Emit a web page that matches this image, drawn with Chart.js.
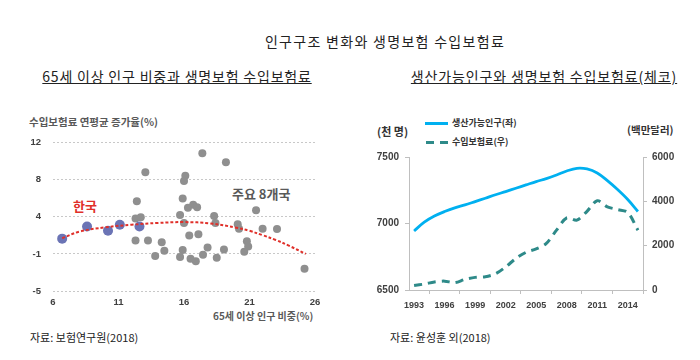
<!DOCTYPE html>
<html>
<head>
<meta charset="utf-8">
<script src="https://cdn.jsdelivr.net/npm/chart.js@4.4.1/dist/chart.umd.min.js"></script>
<style>
  body { margin: 0; background: #fff; font-family: "Noto Sans CJK KR", "Noto Sans", sans-serif; }
  #wrap { position: relative; width: 700px; height: 360px; overflow: hidden; }
  .t { position: absolute; white-space: nowrap; line-height: 1; color: #222; }
  .c { transform: translateX(-50%); }
  canvas { position: absolute; }
</style>
</head>
<body>
<div id="wrap">
  <div class="t c" style="left:385px; top:34px; font-size:14px; letter-spacing:1.3px;">인구구조 변화와 생명보험 수입보험료</div>
  <div class="t c" style="left:177px; top:69px; font-size:14px; letter-spacing:0.8px; text-decoration:underline;">65세 이상 인구 비중과 생명보험 수입보험료</div>
  <div class="t c" style="left:544px; top:69px; font-size:14px; letter-spacing:0.85px; text-decoration:underline;">생산가능인구와 생명보험 수입보험료(체코)</div>

  <div class="t" style="left:29px; top:117px; font-size:10.5px; font-weight:bold; color:#595959;">수입보험료 연평균 증가율(%)</div>
  <div class="t" style="left:213px; top:311px; font-size:10px; font-weight:bold; color:#595959;">65세 이상 인구 비중(%)</div>
  <div class="t" style="left:73px; top:199px; font-size:13px; font-weight:bold; color:#e0302a;">한국</div>
  <div class="t" style="left:232px; top:187px; font-size:13px; font-weight:bold; color:#595959;">주요 8개국</div>

  <div class="t" style="left:377px; top:126px; font-size:11px; font-weight:bold; color:#333;">(천 명)</div>
  <div class="t" style="left:627px; top:125px; font-size:10.5px; font-weight:bold; color:#333;">(백만달러)</div>
  <div style="position:absolute; left:425px; top:122px; width:23px; height:2.5px; background:#00b0f0;"></div>
  <div class="t" style="left:452px; top:118px; font-size:9px; font-weight:bold; color:#333;">생산가능인구(좌)</div>
  <div style="position:absolute; left:426px; top:141px; width:8px; height:3px; background:#2e8a89;"></div>
  <div style="position:absolute; left:440px; top:141px; width:8px; height:3px; background:#2e8a89;"></div>
  <div class="t" style="left:452px; top:137px; font-size:9px; font-weight:bold; color:#333;">수입보험료(우)</div>

  <div class="t" style="left:30px; top:332px; font-size:11px; color:#222;">자료: 보험연구원(2018)</div>
  <div class="t" style="left:390px; top:332px; font-size:11px; color:#222;">자료: 윤성훈 외(2018)</div>

  <canvas id="left" width="340" height="205" style="left:0; top:125px;"></canvas>
  <canvas id="right" width="350" height="175" style="left:350px; top:145px;"></canvas>
</div>
<script>
// left: share of 65+ vs premium growth
const koreaX = [6.7, 8.6, 10.2, 11.1, 12.6];
const koreaY = [1.0, 2.4, 1.9, 2.6, 2.4];
const otherX = [13.05, 17.4, 19.2, 16.1, 16.0, 12.4, 15.9, 16.7, 16.3, 17.0, 15.7, 16.0, 12.3, 12.7, 18.3, 18.4, 20.1, 20.2, 21.5, 22.0,
                23.1, 16.4, 17.1, 12.3, 13.25, 14.3, 14.5, 13.8, 15.9, 15.7, 16.5, 16.9, 17.45, 17.8, 18.5, 19.05, 20.8, 20.9, 20.6, 25.2];
const otherY = [8.6, 10.8, 9.75, 8.2, 7.6, 5.3, 5.6, 4.9, 4.55, 4.6, 3.7, 2.8, 3.3, 3.45, 3.6, 2.8, 2.65, 2.15, 4.25, 2.15,
                2.1, 1.35, 1.5, 0.8, 0.8, 0.6, -0.4, -1.0, -0.3, -1.1, -1.3, -1.6, -0.85, 0.0, -1.2, -0.25, 0.7, 0.1, -0.5, -2.45];
const trendX = [6.7, 8, 10, 12, 14, 16, 18, 20, 21, 22, 23, 24, 25.3];
const trendY = [1.05, 1.8, 2.3, 2.6, 2.8, 2.9, 2.75, 2.25, 1.9, 1.4, 0.85, 0.2, -0.75];
const leftYTicks = ['-5', '-1', '4', '8', '12'];
const leftXTicks = ['6', '11', '16', '21', '26'];

// right: Czech working-age population vs premium income
const years = ['1993', '1994', '1995', '1996', '1997', '1998', '1999', '2000', '2001', '2002', '2003', '2004',
               '2005', '2006', '2007', '2008', '2009', '2010', '2011', '2012', '2013', '2014', '2015'];
const workingPop = [6944, 7010, 7056, 7090, 7118, 7140, 7165, 7190, 7216, 7240, 7265, 7290,
                    7315, 7338, 7365, 7395, 7415, 7410, 7380, 7322, 7255, 7180, 7090];
const premiums = [200, 270, 360, 400, 330, 480, 570, 600, 730, 1040, 1420, 1700,
                  1850, 2100, 2700, 3250, 3150, 3550, 4030, 3750, 3630, 3500, 2700];

const pts = (xs, ys) => xs.map((x, i) => ({ x: x, y: ys[i] }));
const tickFont = { family: 'Liberation Sans', size: 9.5, weight: 'bold' };

new Chart(document.getElementById('left'), {
  type: 'scatter',
  data: {
    datasets: [
      { type: 'line', data: pts(trendX, trendY), borderColor: '#e0302a', borderWidth: 2, borderDash: [3, 2],
        pointRadius: 0, tension: 0.4, fill: false },
      { data: pts(koreaX, koreaY), backgroundColor: '#6b74b5', borderWidth: 0, pointRadius: 5 },
      { data: pts(otherX, otherY), backgroundColor: '#8f8f8f', borderWidth: 0, pointRadius: 4 }
    ]
  },
  options: {
    responsive: false,
    animation: false,
    layout: { padding: { top: 10, right: 25, left: 0, bottom: 0 } },
    plugins: { legend: { display: false }, tooltip: { enabled: false } },
    scales: {
      x: {
        type: 'linear', min: 6, max: 26,
        afterFit: (s) => { s.height = 39; },
        grid: { display: false, drawTicks: false },
        border: { display: false },
        ticks: { stepSize: 5, padding: 6, color: '#404040', font: tickFont,
                 callback: (v, i) => leftXTicks[i] }
      },
      y: {
        min: -5, max: 12,
        afterFit: (s) => { s.width = 53; },
        grid: { color: '#c8c8c8', drawTicks: false, lineWidth: 1 },
        border: { display: false, dash: [2, 2] },
        ticks: { stepSize: 4.25, padding: 12, color: '#404040', font: tickFont,
                 callback: (v, i) => leftYTicks[i] }
      }
    }
  }
});

new Chart(document.getElementById('right'), {
  type: 'line',
  data: {
    labels: years,
    datasets: [
      { data: workingPop, yAxisID: 'y', borderColor: '#00b0f0', borderWidth: 2.8, pointRadius: 0, tension: 0.35 },
      { data: premiums, yAxisID: 'y1', borderColor: '#2e8a89', borderWidth: 3, borderDash: [8, 6], pointRadius: 0, tension: 0.3 }
    ]
  },
  options: {
    responsive: false,
    animation: false,
    layout: { padding: { top: 10, right: 0, left: 0, bottom: 0 } },
    plugins: { legend: { display: false }, tooltip: { enabled: false } },
    scales: {
      x: {
        offset: true,
        afterFit: (s) => { s.height = 30; },
        grid: { drawOnChartArea: false, tickLength: 4, color: '#bfbfbf', offset: true },
        border: { color: '#bfbfbf' },
        ticks: { autoSkip: false, maxRotation: 0, padding: 6, color: '#404040',
                 font: { family: 'Liberation Sans', size: 9, weight: 'bold' },
                 callback: (v, i) => (i % 3 === 0 ? years[i] : null) }
      },
      y: {
        position: 'left', min: 6500, max: 7500,
        afterFit: (s) => { s.width = 59; },
        grid: { drawOnChartArea: false, tickLength: 4, color: '#bfbfbf' },
        border: { color: '#bfbfbf' },
        ticks: { stepSize: 500, padding: 6, color: '#404040',
                 font: { family: 'Liberation Sans', size: 10, weight: 'bold' },
                 callback: (v) => String(v) }
      },
      y1: {
        position: 'right', min: 0, max: 6000,
        afterFit: (s) => { s.width = 57; },
        grid: { drawOnChartArea: false, tickLength: 4, color: '#bfbfbf' },
        border: { color: '#bfbfbf' },
        ticks: { stepSize: 2000, padding: 5, color: '#404040',
                 font: { family: 'Liberation Sans', size: 10, weight: 'bold' },
                 callback: (v) => String(v) }
      }
    }
  }
});
</script>
</body>
</html>
